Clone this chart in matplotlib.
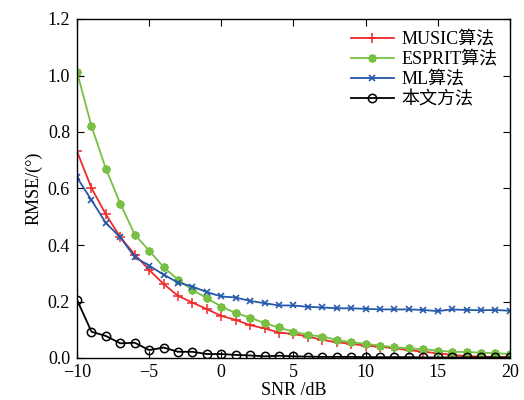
import numpy as np
import matplotlib
matplotlib.use("Agg")
from matplotlib import pyplot as plt

plt.rcParams['font.family'] = ['Liberation Serif', 'Noto Sans CJK SC', 'DejaVu Sans']
plt.rcParams['mathtext.fontset'] = 'stix'

# Dados
snr = np.arange(-10, 21)

music = [0.731, 0.602, 0.508, 0.428, 0.366, 0.312, 0.262, 0.220, 0.196, 0.173,
         0.149, 0.135, 0.116, 0.105, 0.090, 0.085, 0.076, 0.064, 0.056, 0.050,
         0.044, 0.040, 0.034, 0.028, 0.022, 0.017, 0.011, 0.007, 0.005, 0.004, 0.003]
esprit = [1.012, 0.821, 0.670, 0.546, 0.437, 0.380, 0.322, 0.277, 0.241, 0.212,
          0.182, 0.159, 0.143, 0.123, 0.108, 0.093, 0.082, 0.076, 0.064, 0.056,
          0.050, 0.044, 0.038, 0.034, 0.031, 0.026, 0.022, 0.021, 0.019, 0.017, 0.014]
ml = [0.639, 0.559, 0.478, 0.427, 0.357, 0.327, 0.295, 0.267, 0.253, 0.233,
      0.218, 0.214, 0.202, 0.194, 0.186, 0.186, 0.181, 0.179, 0.176, 0.176,
      0.174, 0.172, 0.172, 0.172, 0.170, 0.166, 0.172, 0.170, 0.169, 0.170, 0.167]
proposto = [0.206, 0.093, 0.078, 0.052, 0.054, 0.028, 0.037, 0.022, 0.022, 0.014,
            0.014, 0.011, 0.009, 0.006, 0.008, 0.006, 0.005, 0.004, 0.004, 0.004,
            0.003, 0.003, 0.003, 0.003, 0.002, 0.002, 0.002, 0.002, 0.002, 0.002, 0.002]

labels = ['MUSIC算法', 'ESPRIT算法', 'ML算法', '本文方法']

fig = plt.figure(figsize=(5.24, 4.0), dpi=100)
ax = fig.add_axes([0.147, 0.105, 0.826, 0.8475])

ax.plot(snr, music, color='#ee2a2a', marker='+', ms=7, mew=1.1, lw=1.3, label=labels[0])
ax.plot(snr, esprit, color='#77c043', marker=(8, 2, 0), ms=6, mew=1.4, lw=1.3, label=labels[1])
ax.plot(snr, ml, color='#2458aa', marker='x', ms=4.5, mew=1.2, lw=1.3, label=labels[2])
ax.plot(snr, proposto, color='k', marker='o', mfc='none', ms=6, mew=1.1, lw=1.3, label=labels[3])

ax.set_xlim(-10, 20)
ax.set_ylim(0, 1.2)
ax.set_xticks([-10, -5, 0, 5, 10, 15, 20])
ax.set_yticks(np.arange(0, 1.21, 0.2))
ax.set_yticklabels(['%.1f' % v for v in np.arange(0, 1.21, 0.2)])
ax.tick_params(direction='in', top=True, right=True, labelsize=13, length=5)
ax.tick_params(axis='x', pad=4)
ax.tick_params(axis='y', pad=5)
for s in ax.spines.values():
    s.set_linewidth(1.0)

ax.set_xlabel('SNR /dB', fontsize=13, labelpad=1)
ax.set_ylabel('RMSE/(°)', fontsize=13)

leg = ax.legend(loc='upper right', frameon=False, fontsize=13, handlelength=2.4,
                labelspacing=0.15, borderaxespad=0.3, handletextpad=0.4)

fig.savefig('out.png', dpi=100)
